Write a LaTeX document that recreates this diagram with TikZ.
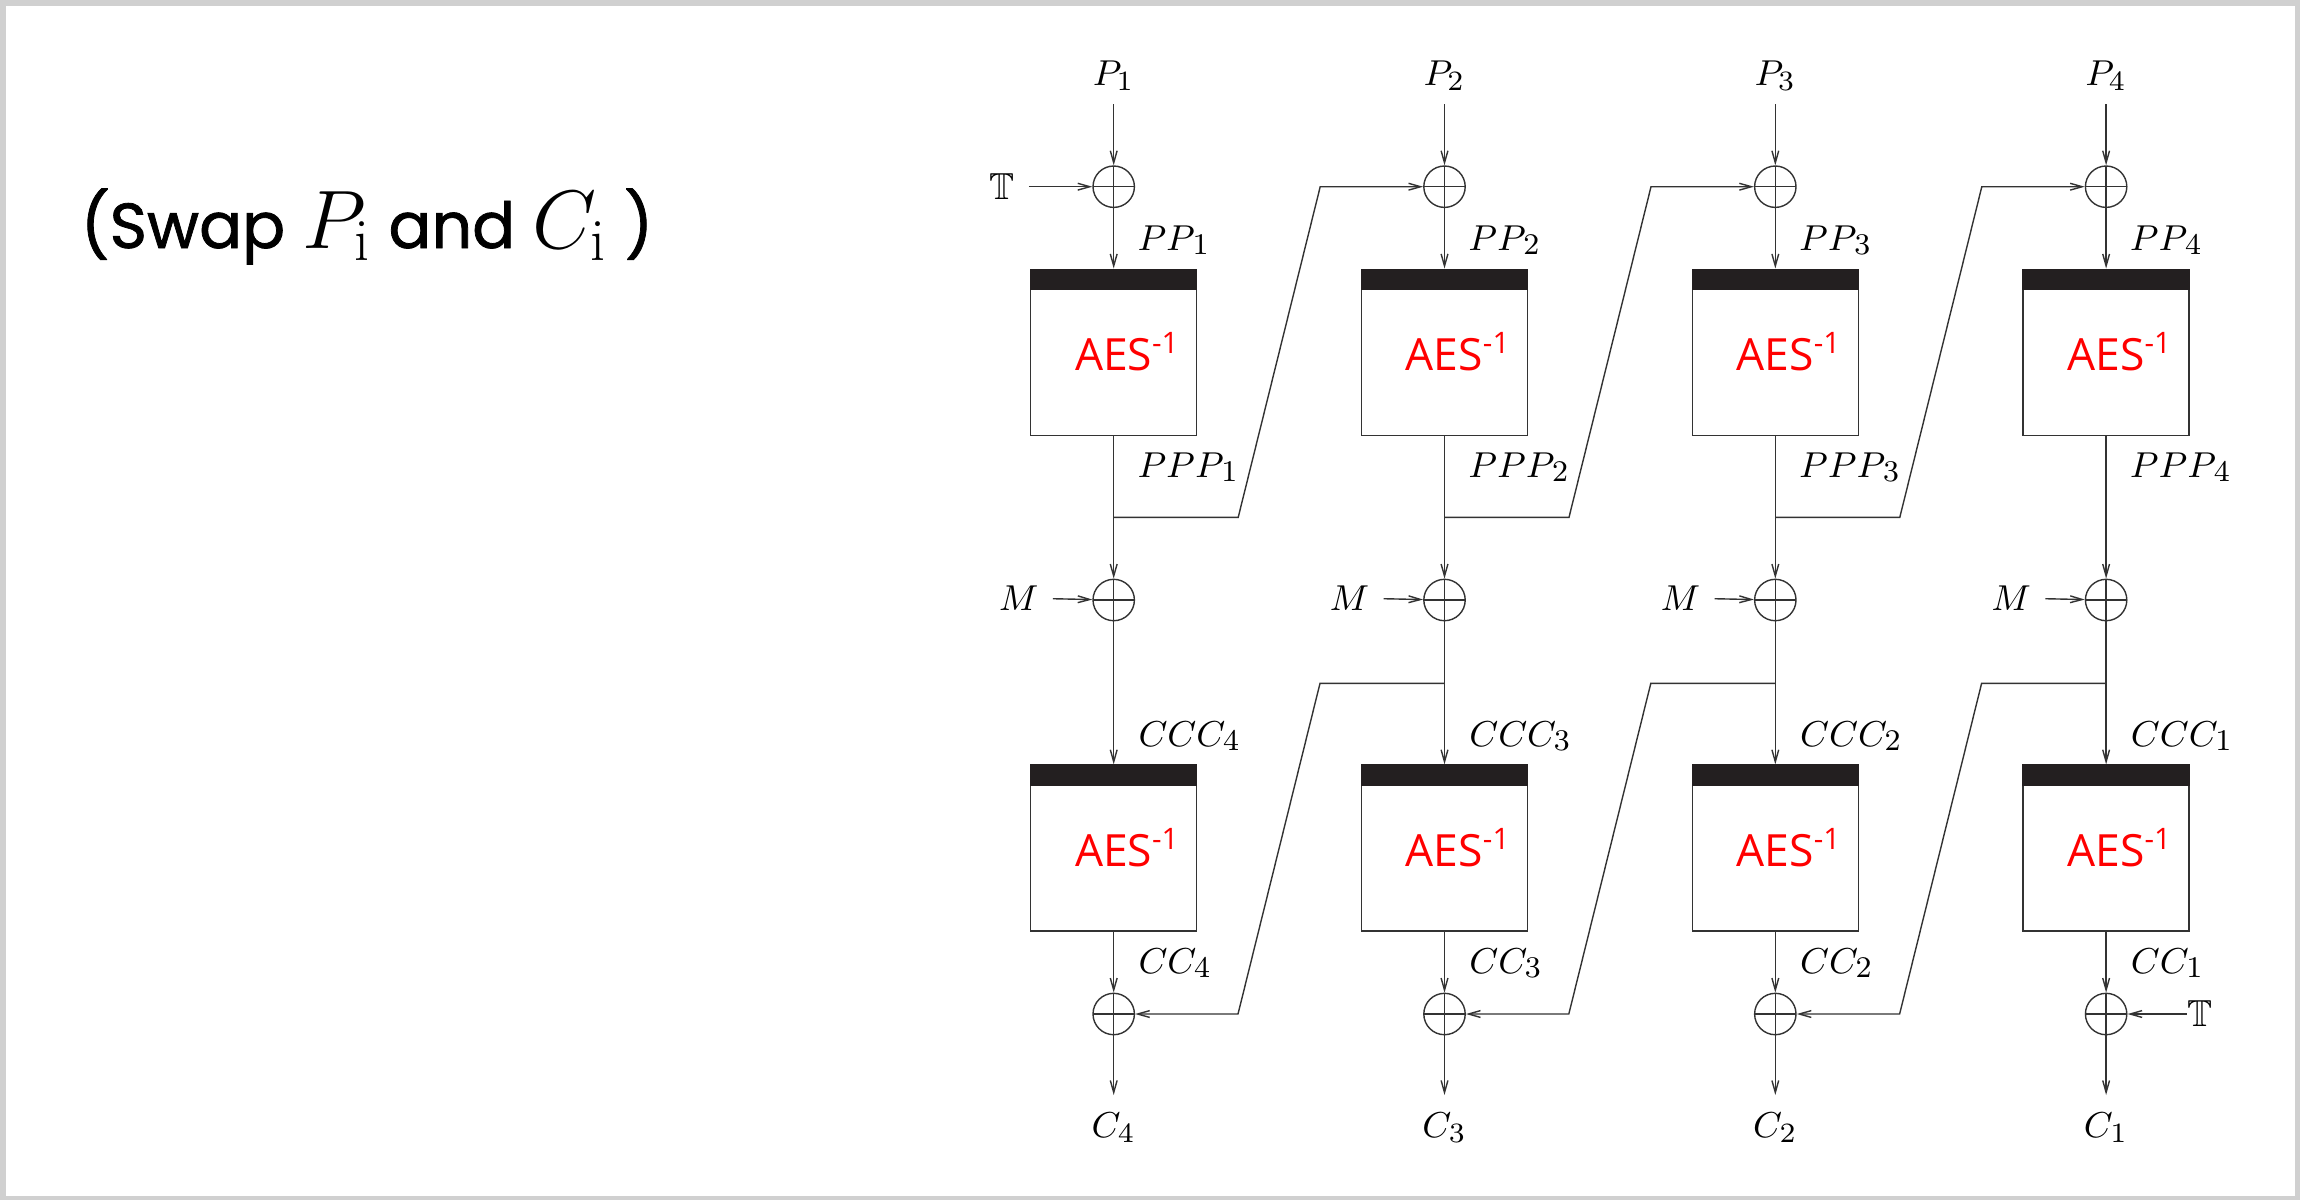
\documentclass[tikz,border=0pt]{standalone}
\usepackage{amssymb}
\usepackage{fontspec}
\newfontfamily\titlefont{Poppins}[FakeBold=1.2]
\newfontfamily\aesfont{Open Sans}
\usetikzlibrary{arrows.meta}
\definecolor{ln}{HTML}{333333}
\definecolor{barc}{HTML}{231F20}
\definecolor{framec}{HTML}{D0D0D0}
\newcommand\mylsub[2]{$#1$\kern-0.6pt\raisebox{-1pt}{\fontsize{7.5}{8}\selectfont #2}}
\tikzset{
  wire/.style={draw=ln, line width=0.35pt},
  arr/.style={wire, -{Straight Barb[length=3pt,width=1.7pt]}},
  xor/.style={circle, draw=ln, line width=0.35pt, minimum size=10.35pt, inner sep=0pt,
    path picture={\draw[ln,line width=0.35pt] (path picture bounding box.north) -- (path picture bounding box.south)
      (path picture bounding box.west) -- (path picture bounding box.east);}},
  aesbox/.style={rectangle, draw=ln, line width=0.35pt, minimum width=41.5pt, minimum height=41.5pt, inner sep=0pt},
  lbl/.style={inner sep=0pt, font=\fontsize{9.4}{11}\selectfont},
  aestext/.style={inner sep=0pt, text=red, font=\aesfont\fontsize{11.1}{13}\selectfont},
}
\begin{document}
\begin{tikzpicture}[x=0.25pt,y=-0.25pt]
\fill[framec] (0,0) rectangle (2300,1200);
\fill[white] (6,6) rectangle (2295,1196);
\useasboundingbox (0,0) rectangle (2300,1200);

\node[anchor=base west, inner sep=0pt, font=\titlefont\fontsize{15.9}{18}\selectfont] (title) at (80,248)
  {(Swap {\fontsize{21.5}{24}\selectfont$P_{\mathrm{i}}$} and {\fontsize{21.5}{24}\selectfont$C_{\mathrm{i}}$} )};

\foreach \i in {1,...,4}{
  \pgfmathsetmacro{\cx}{1113.7+330.8*(\i-1)}
  \pgfmathtruncatemacro{\j}{5-\i}
  \node[lbl, anchor=base] (p\i) at (\cx,85) {$P_{\i}$};
  \coordinate (ps\i) at (\cx,104);
  \node[xor] (xa\i) at (\cx,186.7) {};
  \node[lbl, anchor=base west] (pp\i) at (\cx+23,250) {\mylsub{PP}{\i}};
  \node[aesbox] (ba\i) at (\cx,352.2) {};
  \fill[barc] (ba\i.north west) rectangle ([yshift=-5.3pt]ba\i.north east);
  \node[aestext, anchor=base west] (ta\i) at (\cx-39.5,370) {AES\raisebox{4.25pt}{\fontsize{7.4}{8}\selectfont -1}};
  \node[lbl, anchor=base west] (ppp\i) at (\cx+23,477) {\mylsub{PPP}{\i}};
  \coordinate (ja\i) at (\cx,517.3);
  \node[lbl, inner sep=3.4pt] (m\i) at (\cx-95,598) {$M$};
  \node[xor] (xb\i) at (\cx,600) {};
  \coordinate (jb\i) at (\cx,683.3);
  \node[lbl, anchor=base west] (ccc\i) at (\cx+24,746.7) {\mylsub{CCC}{\j}};
  \node[aesbox] (bb\i) at (\cx,848) {};
  \fill[barc] (bb\i.north west) rectangle ([yshift=-5.3pt]bb\i.north east);
  \node[aestext, anchor=base west] (tb\i) at (\cx-39.5,866) {AES\raisebox{4.25pt}{\fontsize{7.4}{8}\selectfont -1}};
  \node[lbl, anchor=base west] (cc\i) at (\cx+24,973) {\mylsub{CC}{\j}};
  \node[xor] (xc\i) at (\cx,1014) {};
  \coordinate (ce\i) at (\cx,1095);
  \node[lbl, anchor=base] (c\i) at (\cx,1137) {$C_{\j}$};
  \draw[arr] (ps\i) -- (xa\i);
  \draw[arr] (xa\i) -- (ba\i);
  \draw[arr] (ba\i) -- (xb\i);
  \draw[arr] (m\i) -- (xb\i);
  \draw[arr] (xb\i) -- (bb\i);
  \draw[arr] (bb\i) -- (xc\i);
  \draw[arr] (xc\i) -- (ce\i);
}
\foreach \i/\k in {1/2,2/3,3/4}{
  \draw[arr] (ja\i) -- ++(124.5,0) -- ++(82,-330.6) -- (xa\k);
  \draw[arr] (jb\k) -- ++(-124.5,0) -- ++(-82,330.7) -- (xc\i);
}
\node[lbl, inner sep=3.4pt] (tl) at (1002,186.7) {$\mathbb{T}$};
\draw[arr] (tl) -- (xa1);
\node[lbl] (tr) at (2200,1014) {$\mathbb{T}$};
\draw[arr] (tr) -- (xc4);
\end{tikzpicture}
\end{document}
